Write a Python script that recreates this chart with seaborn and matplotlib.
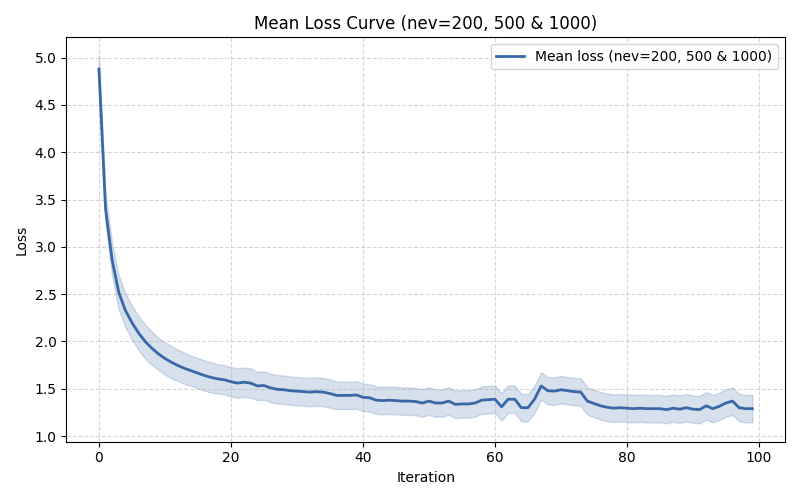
import numpy as np
import pandas as pd
import matplotlib
matplotlib.use("Agg")
import matplotlib.pyplot as plt
import seaborn as sns

# mean loss per iteration
mean_loss = [
    4.88, 3.40, 2.86, 2.52, 2.33, 2.20, 2.09, 2.00, 1.93, 1.87,
    1.82, 1.78, 1.745, 1.715, 1.69, 1.665, 1.64, 1.62, 1.605, 1.595,
    1.575, 1.56, 1.57, 1.56, 1.53, 1.535, 1.51, 1.495, 1.49, 1.48,
    1.475, 1.47, 1.465, 1.47, 1.465, 1.45, 1.43, 1.43, 1.43, 1.435,
    1.41, 1.405, 1.38, 1.375, 1.38, 1.375, 1.37, 1.37, 1.365, 1.35,
    1.37, 1.35, 1.35, 1.37, 1.335, 1.34, 1.34, 1.35, 1.38, 1.385,
    1.39, 1.31, 1.39, 1.39, 1.30, 1.30, 1.39, 1.53, 1.48, 1.475,
    1.49, 1.48, 1.47, 1.465, 1.37, 1.345, 1.32, 1.305, 1.295, 1.30,
    1.295, 1.29, 1.295, 1.29, 1.29, 1.29, 1.28, 1.295, 1.285, 1.30,
    1.285, 1.28, 1.32, 1.29, 1.315, 1.35, 1.37, 1.30, 1.29, 1.29,
]

# half-width of the shaded band
std_loss = [
    0.14, 0.16, 0.17, 0.18, 0.18, 0.18, 0.18, 0.18, 0.175, 0.17,
    0.17, 0.17, 0.165, 0.165, 0.16, 0.16, 0.16, 0.16, 0.155, 0.155,
    0.155, 0.155, 0.155, 0.155, 0.15, 0.15, 0.15, 0.15, 0.15, 0.15,
    0.15, 0.15, 0.15, 0.15, 0.15, 0.15, 0.145, 0.145, 0.145, 0.145,
    0.145, 0.145, 0.145, 0.145, 0.145, 0.145, 0.145, 0.145, 0.145, 0.145,
    0.145, 0.145, 0.145, 0.145, 0.145, 0.145, 0.145, 0.145, 0.145, 0.145,
    0.145, 0.145, 0.145, 0.145, 0.145, 0.145, 0.145, 0.145, 0.145, 0.145,
    0.145, 0.145, 0.145, 0.145, 0.145, 0.145, 0.145, 0.145, 0.145, 0.145,
    0.145, 0.145, 0.145, 0.145, 0.145, 0.145, 0.145, 0.145, 0.145, 0.145,
    0.145, 0.145, 0.145, 0.145, 0.145, 0.145, 0.145, 0.145, 0.145, 0.145,
]

iterations = list(range(len(mean_loss)))
label = "Mean loss (nev=200, 500 & 1000)"
line_color = "#3868a6"

df = pd.DataFrame({"Iteration": iterations, "Loss": mean_loss, "Std": std_loss})
lower = df["Loss"] - df["Std"]
upper = df["Loss"] + df["Std"]

fig, ax = plt.subplots(figsize=(8, 5), dpi=100)

# shaded band, thin edge like the default fill_between
ax.fill_between(df["Iteration"], lower, upper, color=line_color, alpha=0.2, linewidth=1)
sns.lineplot(data=df, x="Iteration", y="Loss", color=line_color, linewidth=2, label=label, ax=ax)

ax.set_title("Mean Loss Curve (nev=200, 500 & 1000)")
ax.set_xlabel("Iteration")
ax.set_ylabel("Loss")
ax.grid(True, linestyle="--", alpha=0.5)
ax.legend(loc="upper right")

plt.tight_layout()
plt.savefig("out.png", dpi=100)
plt.close()
